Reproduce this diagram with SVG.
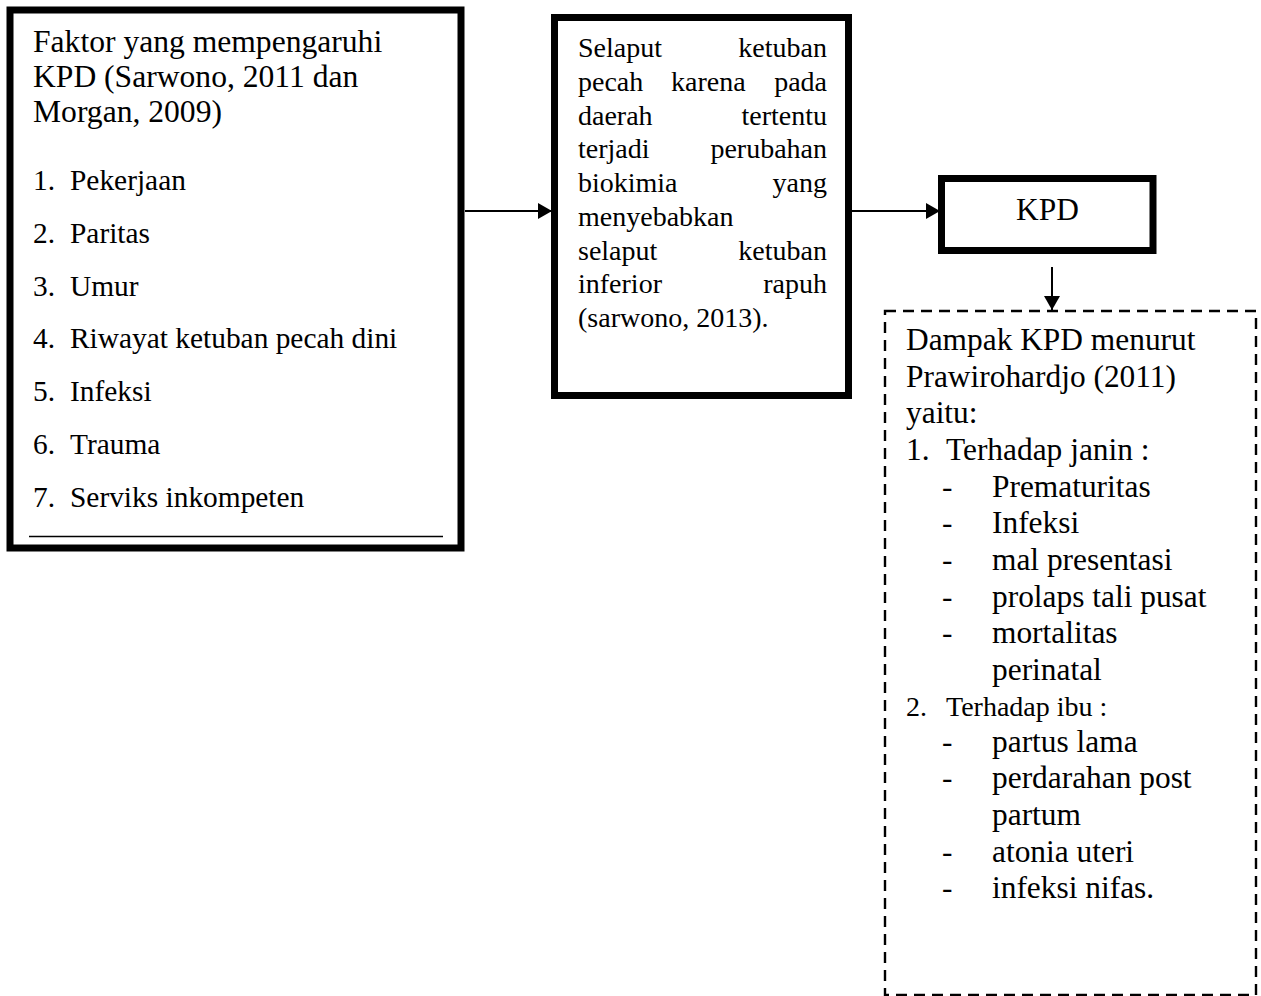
<svg xmlns="http://www.w3.org/2000/svg" width="1261" height="996" viewBox="0 0 1261 996">
<style>
  text { font-family: "Liberation Serif", "Times New Roman", serif; fill: #000; }
  .box { fill: #fff; stroke: #000; stroke-width: 7; }
  .dash { fill: #fff; stroke: #000; stroke-width: 2.4; stroke-dasharray: 11 7; }
  .conn { stroke: #000; stroke-width: 2; fill: none; }
  .h1 { font-size: 31.6px; }
  .li { font-size: 29.4px; }
  .b2 { font-size: 28px; }
  .d { font-size: 31.4px; }
  .ds { font-size: 28px; }
</style>
<defs>
  <marker id="arr" markerUnits="userSpaceOnUse" markerWidth="14" markerHeight="16" refX="14" refY="8" orient="auto">
    <path d="M0,0 L14,8 L0,16 Z" fill="#000"/>
  </marker>
</defs>
<rect width="1261" height="996" fill="#fff"/>

<g id="factors">
  <rect class="box" x="10" y="10" width="451" height="538"/>
  <line x1="29" y1="536.5" x2="443" y2="536.5" stroke="#000" stroke-width="1.5"/>
  <text class="h1" x="33" y="52">Faktor yang mempengaruhi</text>
  <text class="h1" x="33" y="87">KPD (Sarwono, 2011 dan</text>
  <text class="h1" x="33" y="122">Morgan, 2009)</text>
  <g class="li">
    <text x="33" y="190">1.</text><text x="70" y="190">Pekerjaan</text>
    <text x="33" y="243">2.</text><text x="70" y="243">Paritas</text>
    <text x="33" y="296">3.</text><text x="70" y="296">Umur</text>
    <text x="33" y="348">4.</text><text x="70" y="348">Riwayat ketuban pecah dini</text>
    <text x="33" y="401">5.</text><text x="70" y="401">Infeksi</text>
    <text x="33" y="454">6.</text><text x="70" y="454">Trauma</text>
    <text x="33" y="507">7.</text><text x="70" y="507">Serviks inkompeten</text>
  </g>
</g>

<g id="mechanism">
  <rect class="box" x="554.5" y="17.5" width="294" height="378"/>
  <g class="b2">
    <text x="578" y="57">Selaput</text><text x="827" y="57" text-anchor="end">ketuban</text>
    <text x="578" y="90.75">pecah</text><text x="671" y="90.75">karena</text><text x="827" y="90.75" text-anchor="end">pada</text>
    <text x="578" y="124.5">daerah</text><text x="827" y="124.5" text-anchor="end">tertentu</text>
    <text x="578" y="158.25">terjadi</text><text x="827" y="158.25" text-anchor="end">perubahan</text>
    <text x="578" y="192">biokimia</text><text x="827" y="192" text-anchor="end">yang</text>
    <text x="578" y="225.75">menyebabkan</text>
    <text x="578" y="259.5">selaput</text><text x="827" y="259.5" text-anchor="end">ketuban</text>
    <text x="578" y="293.25">inferior</text><text x="827" y="293.25" text-anchor="end">rapuh</text>
    <text x="578" y="327">(sarwono, 2013).</text>
  </g>
</g>

<g id="kpd">
  <rect class="box" x="941.5" y="178.5" width="211.5" height="72"/>
  <text class="d" x="1047.5" y="220" text-anchor="middle">KPD</text>
</g>

<g id="impact">
  <rect class="dash" x="885" y="311" width="371" height="684"/>
  <g class="d">
    <text x="906" y="350">Dampak KPD menurut</text>
    <text x="906" y="387">Prawirohardjo (2011)</text>
    <text x="906" y="423">yaitu:</text>
    <text x="906" y="460">1.</text><text x="946" y="460">Terhadap janin :</text>
    <text x="942" y="497">-</text><text x="992" y="497">Prematuritas</text>
    <text x="942" y="533">-</text><text x="992" y="533">Infeksi</text>
    <text x="942" y="570">-</text><text x="992" y="570">mal presentasi</text>
    <text x="942" y="607">-</text><text x="992" y="607">prolaps tali pusat</text>
    <text x="942" y="643">-</text><text x="992" y="643">mortalitas</text>
    <text x="992" y="680">perinatal</text>
  </g>
  <text class="ds" x="906" y="716">2.</text><text class="ds" x="946" y="716">Terhadap ibu :</text>
  <g class="d">
    <text x="942" y="752">-</text><text x="992" y="752">partus lama</text>
    <text x="942" y="788">-</text><text x="992" y="788">perdarahan post</text>
    <text x="992" y="825">partum</text>
    <text x="942" y="862">-</text><text x="992" y="862">atonia uteri</text>
    <text x="942" y="898">-</text><text x="992" y="898">infeksi nifas.</text>
  </g>
</g>

<g id="connectors">
  <line class="conn" x1="465" y1="211" x2="552" y2="211" marker-end="url(#arr)"/>
  <line class="conn" x1="852" y1="211" x2="940" y2="211" marker-end="url(#arr)"/>
  <line class="conn" x1="1052" y1="267" x2="1052" y2="310" marker-end="url(#arr)"/>
</g>
</svg>
